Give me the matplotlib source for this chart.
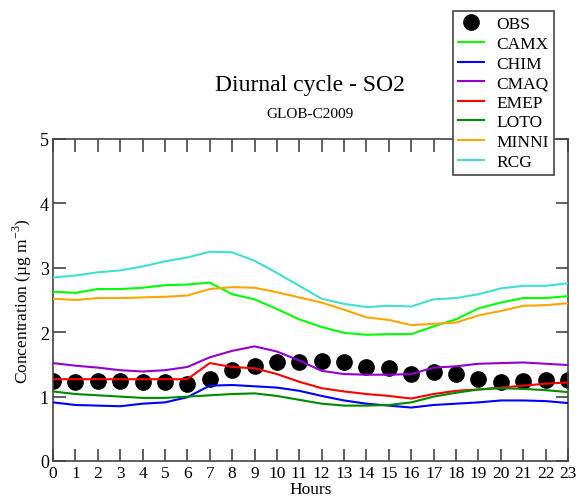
import numpy as np
import matplotlib
matplotlib.use('Agg')
import matplotlib.pyplot as plt

plt.rcParams['font.family'] = ['Liberation Serif', 'DejaVu Serif']
plt.rcParams['mathtext.fontset'] = 'custom'
plt.rcParams['mathtext.rm'] = 'Liberation Serif'

hours = list(range(24))

obs   = [1.25, 1.23, 1.25, 1.24, 1.23, 1.22, 1.19, 1.28, 1.41, 1.47, 1.54, 1.53,
         1.55, 1.54, 1.46, 1.45, 1.35, 1.38, 1.35, 1.28, 1.23, 1.25, 1.26, 1.26]
camx  = [2.63, 2.61, 2.67, 2.67, 2.69, 2.73, 2.74, 2.77, 2.59, 2.51, 2.36, 2.20,
         2.08, 1.99, 1.96, 1.97, 1.97, 2.09, 2.20, 2.37, 2.46, 2.53, 2.53, 2.56]
chim  = [0.91, 0.87, 0.86, 0.85, 0.89, 0.91, 0.99, 1.17, 1.18, 1.16, 1.14, 1.09,
         1.01, 0.94, 0.89, 0.86, 0.83, 0.87, 0.89, 0.91, 0.94, 0.94, 0.93, 0.90]
cmaq  = [1.52, 1.48, 1.45, 1.41, 1.39, 1.41, 1.46, 1.61, 1.71, 1.78, 1.70, 1.56,
         1.40, 1.35, 1.34, 1.34, 1.35, 1.45, 1.47, 1.51, 1.52, 1.53, 1.51, 1.49]
emep  = [1.27, 1.27, 1.27, 1.27, 1.27, 1.27, 1.27, 1.52, 1.46, 1.44, 1.35, 1.23,
         1.13, 1.08, 1.04, 1.01, 0.97, 1.04, 1.09, 1.11, 1.14, 1.17, 1.20, 1.22]
loto  = [1.08, 1.04, 1.02, 1.00, 0.98, 0.98, 1.00, 1.02, 1.04, 1.05, 1.01, 0.95,
         0.89, 0.86, 0.86, 0.87, 0.91, 1.00, 1.06, 1.11, 1.13, 1.12, 1.10, 1.07]
minni = [2.52, 2.50, 2.53, 2.53, 2.54, 2.55, 2.57, 2.67, 2.70, 2.69, 2.62, 2.54,
         2.46, 2.35, 2.23, 2.19, 2.11, 2.13, 2.15, 2.26, 2.33, 2.41, 2.42, 2.45]
rcg   = [2.85, 2.88, 2.93, 2.96, 3.02, 3.10, 3.16, 3.25, 3.24, 3.11, 2.92, 2.72,
         2.52, 2.44, 2.39, 2.41, 2.40, 2.51, 2.53, 2.59, 2.68, 2.72, 2.72, 2.76]

models = [('CAMX', camx, '#00ff00'),
          ('CHIM', chim, '#0000ff'),
          ('CMAQ', cmaq, '#9400d3'),
          ('EMEP', emep, '#ff0000'),
          ('LOTO', loto, '#008b00'),
          ('MINNI', minni, '#ffa500'),
          ('RCG', rcg, '#40e0d0')]

fig = plt.figure(figsize=(5.81, 5.02), dpi=100)
ax = fig.add_axes([53/581, 40/502, 515/581, 322/502])

ax.plot(hours, obs, 'o', color='black', markersize=11, label='OBS', zorder=2)
for name, vals, col in models:
    ax.plot(hours, vals, color=col, linewidth=1.5, label=name, zorder=3)

ax.set_xlim(0, 23)
ax.set_ylim(0, 5)
ax.set_xticks(hours)
ax.set_yticks([0, 1, 2, 3, 4, 5])
ax.tick_params(direction='in', length=9, width=1.2, color='#444444',
               top=True, right=True, labelsize=13, pad=3)
ax.tick_params(axis='x', labelsize=12.5)
for sp in ax.spines.values():
    sp.set_color('#444444')
    sp.set_linewidth(1.2)

ax.set_xlabel('Hours', fontsize=12.5, labelpad=0)
ax.set_ylabel(r'Concentration (µg m$^{\mathregular{-3}}$)', fontsize=12.5, labelpad=4)

fig.text(310/581, 1 - 86/502, 'Diurnal cycle - SO2', ha='center', va='center', fontsize=17)
fig.text(310/581, 1 - 114/502, 'GLOB-C2009', ha='center', va='center', fontsize=11)

leg = ax.legend(loc='upper left', bbox_to_anchor=(453/581, 1 - 12/502),
                bbox_transform=fig.transFigure, fontsize=12.5, frameon=True,
                fancybox=False, edgecolor='#444444', framealpha=1,
                borderpad=0.3, labelspacing=0.2, handlelength=1.5,
                handletextpad=0.7, borderaxespad=0)
leg.get_frame().set_linewidth(1.2)
leg.set_zorder(10)

fig.savefig('out.png', dpi=100)
